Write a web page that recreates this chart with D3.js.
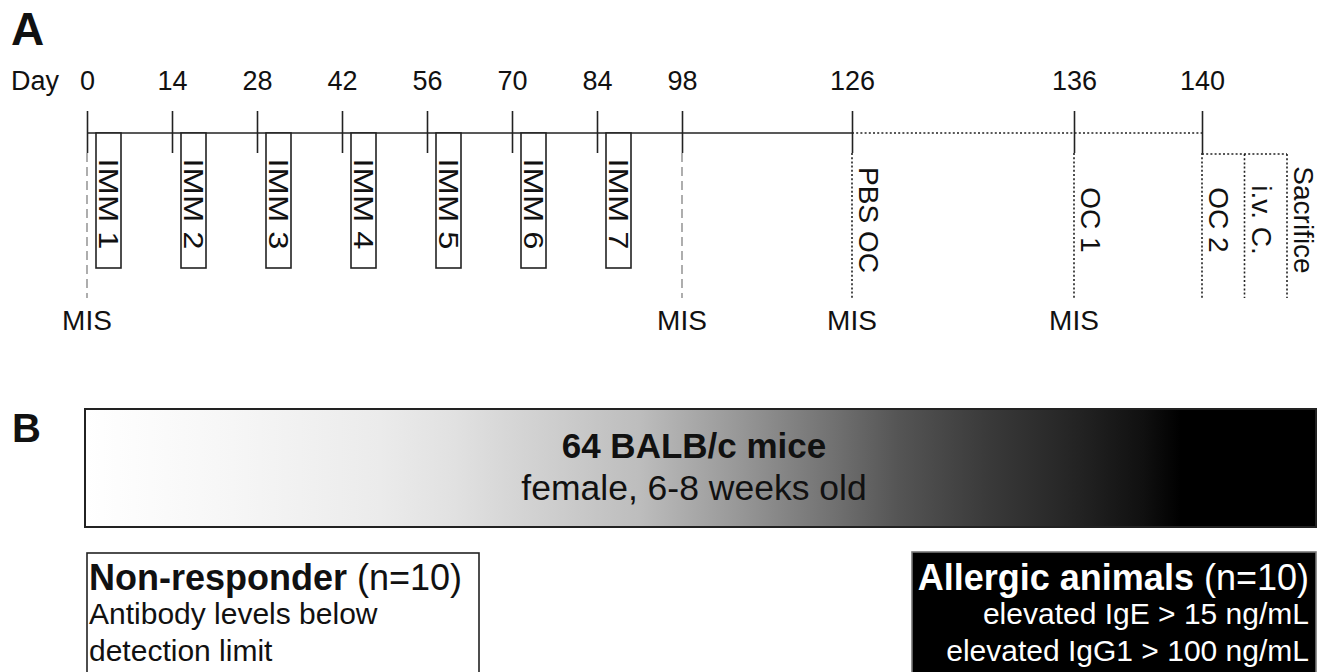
<!DOCTYPE html>
<meta charset="utf-8">
<style>
body { margin: 0; background: #fff; }
text { font-family: "Liberation Sans", Arial, Helvetica, sans-serif; fill: #111; }
.panel { font-weight: bold; }
.axis text { font-size: 27px; fill: #111; }
.axis line { stroke: #222; stroke-width: 1.6px; }
.timeline { stroke: #222; stroke-width: 1.6px; fill: none; }
.dotted { stroke: #222; stroke-width: 1.6px; stroke-dasharray: 2,2.2; fill: none; }
.dashed { stroke: #9a9a9a; stroke-width: 1.6px; stroke-dasharray: 9,5; }
.imm { fill: #fff; stroke: #222; stroke-width: 1.6px; }
.vlabel { font-size: 28px; }
.imm-label { font-size: 28px; }
.mis { font-size: 28px; }
</style>
<body>

<script src="https://cdn.jsdelivr.net/npm/d3@7"></script>
<script>

// timeline data
var tickDays = [0, 14, 28, 42, 56, 70, 84, 98, 126, 136, 140];
var immDays = [0, 14, 28, 42, 56, 70, 84];
var immLabels = ["IMM 1", "IMM 2", "IMM 3", "IMM 4", "IMM 5", "IMM 6", "IMM 7"];
var misDays = [0, 98, 126, 136];
var challengeDays = [126, 136, 140];
var challengeLabels = ["PBS OC", "OC 1", "OC 2"];
var finalSteps = ["i.v. C.", "Sacrifice"];

// cohort data
var cohortTitle = "64 BALB/c mice";
var cohortSub = "female, 6-8 weeks old";
var groupTitles = ["Non-responder", "Allergic animals"];
var groupN = [10, 10];
var nonResponderLines = ["Antibody levels below", "detection limit"];
var allergicLines = ["elevated IgE > 15 ng/mL", "elevated IgG1 > 100 ng/mL"];

var W = 1334, H = 672;

// the time axis is broken: days 0-126 share one pace, the last days are spread out
var x = d3.scaleLinear()
    .domain([0, 126, 136, 140])
    .range([87, 852, 1074, 1202]);

var svg = d3.select("body").append("svg")
    .attr("width", W)
    .attr("height", H);

// ---------- panel A ----------
svg.append("text").attr("class", "panel")
    .attr("x", 11).attr("y", 45)
    .style("font-size", "46px")
    .text("A");

svg.append("text")
    .attr("x", 11).attr("y", 90)
    .style("font-size", "27px")
    .text("Day");

var lineY = 133, tickBottom = 153, lineBottom = 298;

// ticks + day labels
var axis = svg.append("g")
    .attr("class", "axis")
    .attr("transform", "translate(0," + tickBottom + ")")
    .call(d3.axisTop(x).tickValues(tickDays).tickSize(42).tickPadding(21));
axis.select(".domain").remove();
axis.selectAll("text").attr("fill", "#111");

// main line: solid through the immunisation phase, dotted after
svg.append("line").attr("class", "timeline")
    .attr("x1", x(0)).attr("x2", x(126))
    .attr("y1", lineY).attr("y2", lineY);
svg.append("line").attr("class", "dotted")
    .attr("x1", x(126)).attr("x2", x(140))
    .attr("y1", lineY).attr("y2", lineY);

// immunisation boxes
var imm = svg.append("g").selectAll("g")
    .data(immDays)
    .enter().append("g")
    .attr("transform", function(d) { return "translate(" + (x(d) + 9) + ",0)"; });
imm.append("rect").attr("class", "imm")
    .attr("x", 0).attr("y", lineY)
    .attr("width", 25).attr("height", 135);
// labels in the boxes are drawn a bit stretched along their length
imm.append("text").attr("class", "imm-label")
    .attr("text-anchor", "middle")
    .attr("transform", "translate(3,204) scale(1,1.17) rotate(90)")
    .text(function(d, i) { return immLabels[i]; });

// vertical guides below the ticks
var guideDays = Array.from(d3.union(misDays, challengeDays));
svg.append("g").selectAll("line")
    .data(guideDays)
    .enter().append("line")
    .attr("class", function(d) { return challengeDays.indexOf(d) >= 0 ? "dotted" : "dashed"; })
    .attr("x1", function(d) { return x(d); })
    .attr("x2", function(d) { return x(d); })
    .attr("y1", tickBottom)
    .attr("y2", lineBottom);

// MIS labels
svg.append("g").selectAll("text")
    .data(misDays)
    .enter().append("text")
    .attr("class", "mis")
    .attr("text-anchor", "middle")
    .attr("x", function(d) { return x(d); })
    .attr("y", 330)
    .text("MIS");

// challenge labels
svg.append("g").selectAll("text")
    .data(challengeDays)
    .enter().append("text")
    .attr("class", "vlabel")
    .attr("text-anchor", "middle")
    .attr("transform", function(d) { return "translate(" + (x(d) + 7) + ",220) rotate(90)"; })
    .text(function(d, i) { return challengeLabels[i]; });

// last day: OC 2, i.v. challenge and sacrifice in sequence
var step = 42.5, x140 = x(140);
svg.append("line").attr("class", "dotted")
    .attr("x1", x140).attr("x2", x140 + step * finalSteps.length)
    .attr("y1", tickBottom + 1).attr("y2", tickBottom + 1);
svg.append("g").selectAll("line")
    .data(finalSteps)
    .enter().append("line")
    .attr("class", "dotted")
    .attr("x1", function(d, i) { return x140 + step * (i + 1); })
    .attr("x2", function(d, i) { return x140 + step * (i + 1); })
    .attr("y1", tickBottom + 1)
    .attr("y2", lineBottom);
svg.append("g").selectAll("text")
    .data(finalSteps)
    .enter().append("text")
    .attr("class", "vlabel")
    .attr("text-anchor", "middle")
    .attr("transform", function(d, i) {
      return "translate(" + (x140 + step * (i + 1) + 7) + ",220) rotate(90)"; })
    .text(function(d) { return d; });

// ---------- panel B ----------
svg.append("text").attr("class", "panel")
    .attr("x", 12).attr("y", 442)
    .style("font-size", "40px")
    .text("B");

var grad = svg.append("defs").append("linearGradient")
    .attr("id", "cohortGrad")
    .attr("x1", "0%").attr("x2", "100%").attr("y1", "0%").attr("y2", "0%");
[[0, "#ffffff"], [0.12, "#f6f6f6"], [0.24, "#ebebeb"], [0.30, "#e1e1e1"],
 [0.45, "#bdbdbd"], [0.53, "#989898"], [0.61, "#707070"], [0.66, "#555555"],
 [0.73, "#3b3b3b"], [0.81, "#222222"], [0.86, "#101010"], [0.89, "#000000"], [1, "#000000"]]
  .forEach(function(s) {
    grad.append("stop").attr("offset", s[0]).attr("stop-color", s[1]);
  });

svg.append("rect")
    .attr("x", 85).attr("y", 409)
    .attr("width", 1231).attr("height", 118)
    .attr("fill", "url(#cohortGrad)")
    .attr("stroke", "#222").attr("stroke-width", 2);

svg.append("text")
    .attr("x", 694).attr("y", 458)
    .attr("text-anchor", "middle")
    .style("font-size", "35px").style("font-weight", "bold")
    .text(cohortTitle);
svg.append("text")
    .attr("x", 694).attr("y", 500)
    .attr("text-anchor", "middle")
    .style("font-size", "35.5px")
    .text(cohortSub);

// group boxes (they run off the bottom edge)
svg.append("rect")
    .attr("x", 87).attr("y", 553)
    .attr("width", 392).attr("height", 140)
    .attr("fill", "#fff").attr("stroke", "#222").attr("stroke-width", 1.6);
svg.append("rect")
    .attr("x", 912).attr("y", 552)
    .attr("width", 404).attr("height", 140)
    .attr("fill", "#000").attr("stroke", "#777").attr("stroke-width", 1.6);

var t1 = svg.append("text").attr("x", 89).attr("y", 590).style("font-size", "36px");
t1.append("tspan").style("font-weight", "bold").text(groupTitles[0]);
t1.append("tspan").text(" (n=" + groupN[0] + ")");

svg.append("g").selectAll("text")
    .data(nonResponderLines)
    .enter().append("text")
    .attr("x", 89)
    .attr("y", function(d, i) { return 624 + i * 37; })
    .style("font-size", "30px")
    .text(function(d) { return d; });

var t2 = svg.append("text").attr("x", 1309).attr("y", 590)
    .attr("text-anchor", "end").style("font-size", "36px").style("fill", "#fff");
t2.append("tspan").style("font-weight", "bold").text(groupTitles[1]);
t2.append("tspan").text(" (n=" + groupN[1] + ")");

svg.append("g").selectAll("text")
    .data(allergicLines)
    .enter().append("text")
    .attr("x", 1309)
    .attr("y", function(d, i) { return 624 + i * 37; })
    .attr("text-anchor", "end")
    .style("font-size", "30px").style("fill", "#fff")
    .text(function(d) { return d; });

</script>
</body>
